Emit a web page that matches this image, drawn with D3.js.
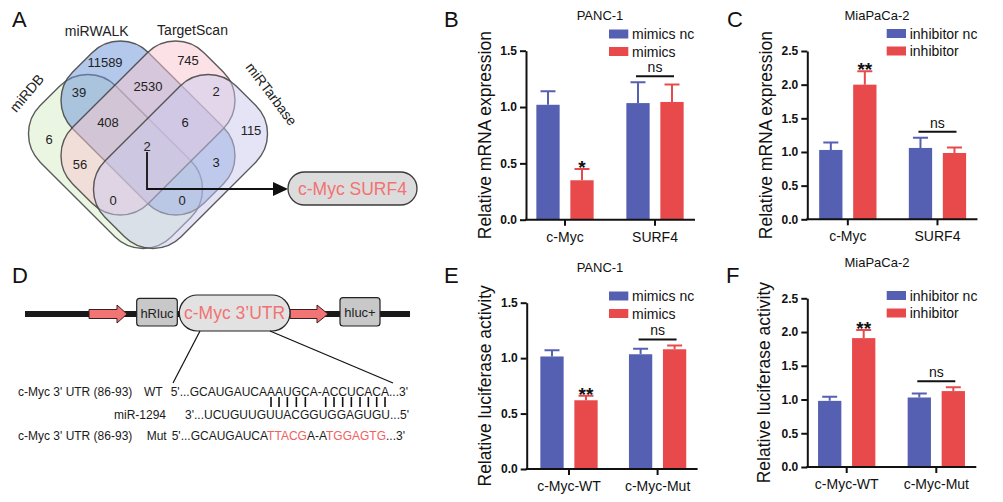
<!DOCTYPE html>
<html><head><meta charset="utf-8">
<script src="https://cdn.jsdelivr.net/npm/d3@7"></script>
<style>body{margin:0;background:#fff;} svg{display:block;font-family:"Liberation Sans",Arial,sans-serif;}</style>
</head><body><svg id="fig" width="1003" height="502"></svg>
<script>
// ---------------- DATA ----------------
// Panel B (PANC-1, qPCR)
const catsB = ["c-Myc", "SURF4"];
const seriesB = ["mimics nc", "mimics"];
const meanB_nc = [1.02, 1.035], sdB_nc = [0.12, 0.185];
const meanB_tr = [0.35, 1.045], sdB_tr = [0.10, 0.155];
const sigB = ["*", "ns"];
// Panel C (MiaPaCa-2, qPCR)
const catsC = ["c-Myc", "SURF4"];
const seriesC = ["inhibitor nc", "inhibitor"];
const meanC_nc = [1.03, 1.06], sdC_nc = [0.11, 0.15];
const meanC_tr = [2.0, 0.985], sdC_tr = [0.20, 0.08];
const sigC = ["**", "ns"];
// Panel E (PANC-1, luciferase)
const catsE = ["c-Myc-WT", "c-Myc-Mut"];
const seriesE = ["mimics nc", "mimics"];
const meanE_nc = [1.015, 1.035], sdE_nc = [0.055, 0.05];
const meanE_tr = [0.62, 1.08], sdE_tr = [0.04, 0.035];
const sigE = ["**", "ns"];
// Panel F (MiaPaCa-2, luciferase)
const catsF = ["c-Myc-WT", "c-Myc-Mut"];
const seriesF = ["inhibitor nc", "inhibitor"];
const meanF_nc = [0.98, 1.03], sdF_nc = [0.06, 0.06];
const meanF_tr = [1.91, 1.125], sdF_tr = [0.12, 0.055];
const sigF = ["**", "ns"];
const ticksLow = [0, 0.5, 1.0, 1.5];
const ticksHigh = [0, 0.5, 1.0, 1.5, 2.0, 2.5];

// Panel A (Venn)
const vennSets = ["miRDB", "miRWALK", "TargetScan", "miRTarbase"];
const vennKeys = ["A", "B", "C", "D", "AB", "BC", "CD", "AC", "BD", "ABC", "BCD", "ACD", "ABD", "ABCD"];
const vennCounts = [6, 11589, 745, 115, 39, 2530, 2, 56, 3, 408, 6, 0, 0, 2];
const vennHits = ["c-Myc", "SURF4"];

// Panel D (sequences)
const seqWT = "5'...GCAUGAUCAAAUGCA-ACCUCACA...3'";
const seqMiR = "3'...UCUGUUGUUACGGUGGAGUGU...5'";
const seqMutParts = [["5'...GCAUGAUCA", 0], ["TTACG", 1], ["A-A", 0], ["TGGAGTG", 1], ["...3'", 0]];
const pairIdx = [14, 15, 16, 17, 18, 21, 22, 23, 24, 25, 26, 27, 28];

// ---------------- STYLE / LAYOUT ----------------
const BLUE = "#5560b3", RED = "#e84a4b", CORAL = "#f27272";
const svg = d3.select("#fig");

function letter(t, x, y) {
  svg.append("text").attr("x", x).attr("y", y).attr("font-size", 22).attr("fill", "#111").text(t);
}

// ---------------- Panel A ----------------
(function () {
  const g = svg.append("g");
  const vennFill = ["#d5edc5", "#6991d7", "#f9c5cd", "#c9c9ed"];
  const shapes = [
    { cx: 115.5, cy: 161.5, rot: 45 },
    { cx: 148, cy: 128, rot: 45 },
    { cx: 148, cy: 128, rot: -45 },
    { cx: 180.5, cy: 161.5, rot: -45 }
  ];
  const a = 92.8, b = 53.7, r = 40;
  g.selectAll("rect.venn").data(shapes).join("rect")
    .attr("x", -a).attr("y", -b).attr("width", 2 * a).attr("height", 2 * b)
    .attr("rx", r).attr("ry", r)
    .attr("transform", d => `translate(${d.cx},${d.cy}) rotate(${d.rot})`)
    .attr("fill", (d, i) => vennFill[i]).attr("fill-opacity", 0.5)
    .attr("stroke", "#404040").attr("stroke-opacity", 0.85).attr("stroke-width", 1.4);

  const labelPos = {
    A: [49, 139], B: [105, 62], C: [188, 60], D: [251, 130], AB: [79, 92], BC: [148, 86], CD: [216, 91],
    AC: [80, 164], BD: [216, 162], ABC: [108, 122], BCD: [185, 122], ACD: [113, 200], ABD: [182, 200], ABCD: [147, 146]
  };
  g.selectAll("text.cnt").data(vennKeys).join("text")
    .attr("x", k => labelPos[k][0]).attr("y", k => labelPos[k][1])
    .attr("text-anchor", "middle").attr("dominant-baseline", "central")
    .attr("font-size", 13).attr("fill", "#222")
    .text((k, i) => vennCounts[i]);

  const setLab = [[26.7, 93, -50], [96.7, 31, 0], [192.5, 30, 0], [271.5, 94, 53]];
  g.selectAll("text.set").data(vennSets).join("text")
    .attr("transform", (d, i) => `translate(${setLab[i][0]},${setLab[i][1]}) rotate(${setLab[i][2]})`)
    .attr("text-anchor", "middle").attr("dominant-baseline", "central")
    .attr("font-size", 14).attr("fill", "#222").text(d => d);

  // arrow
  g.append("path").attr("d", "M147,152 V189 H275").attr("fill", "none").attr("stroke", "#111").attr("stroke-width", 1.8);
  g.append("path").attr("d", "M273,182 L288,189 L273,196 Z").attr("fill", "#111");
  g.append("rect").attr("x", 288).attr("y", 172).attr("width", 129).attr("height", 33).attr("rx", 16.5)
    .attr("fill", "#dcdcdc").attr("stroke", "#3a3a3a").attr("stroke-width", 1.3);
  g.append("text").attr("x", 352.5).attr("y", 189).attr("text-anchor", "middle").attr("dominant-baseline", "central")
    .attr("font-size", 17.5).attr("fill", CORAL).text(vennHits.join(" "));
  letter("A", 12, 27);
})();

// ---------------- Panel D ----------------
(function () {
  const g = svg.append("g");
  g.append("line").attr("x1", 25).attr("x2", 410).attr("y1", 314).attr("y2", 314).attr("stroke", "#1a1a1a").attr("stroke-width", 6);
  function arrow(x0, xh, x1) {
    g.append("path").attr("d", `M${x0},309.5 H${xh} V305 L${x1},314 L${xh},323 V318.5 H${x0} Z`)
      .attr("fill", "#f37474").attr("stroke", "#3a2020").attr("stroke-width", 1);
  }
  arrow(89, 117, 127);
  arrow(290, 317, 328);
  g.append("rect").attr("x", 136.7).attr("y", 298.3).attr("width", 40.6).attr("height", 27.7).attr("rx", 3)
    .attr("fill", "#c8c8c8").attr("stroke", "#222").attr("stroke-width", 1.2);
  g.append("text").attr("x", 157).attr("y", 313).attr("text-anchor", "middle").attr("dominant-baseline", "central")
    .attr("font-size", 13).attr("fill", "#222").text("hRluc");
  g.append("rect").attr("x", 340).attr("y", 297.7).attr("width", 40).attr("height", 28.3).attr("rx", 3)
    .attr("fill", "#c8c8c8").attr("stroke", "#222").attr("stroke-width", 1.2);
  g.append("text").attr("x", 360).attr("y", 312.5).attr("text-anchor", "middle").attr("dominant-baseline", "central")
    .attr("font-size", 13).attr("fill", "#222").text("hluc+");
  g.append("rect").attr("x", 179.3).attr("y", 295).attr("width", 110.7).attr("height", 36).attr("rx", 18)
    .attr("fill", "#e2e2e2").attr("stroke", "#222").attr("stroke-width", 1.2);
  g.append("text").attr("x", 234.6).attr("y", 313).attr("text-anchor", "middle").attr("dominant-baseline", "central")
    .attr("font-size", 17.5).attr("fill", CORAL).text("c-Myc 3\u2019UTR");
  g.append("line").attr("x1", 200).attr("y1", 331).attr("x2", 173).attr("y2", 383).attr("stroke", "#111").attr("stroke-width", 1.2);
  g.append("line").attr("x1", 270).attr("y1", 331).attr("x2", 393).attr("y2", 383).attr("stroke", "#111").attr("stroke-width", 1.2);

  const fs = 12;
  const t = (x, y, s, anchor) => g.append("text").attr("x", x).attr("y", y).attr("font-size", fs).attr("fill", "#1a1a1a")
    .attr("text-anchor", anchor || "start").text(s);
  t(18, 396, "c-Myc 3' UTR (86-93)");
  t(144, 396, "WT");
  const wt = t(170.7, 396, seqWT);
  t(166, 419, "miR-1294", "end");
  t(185, 419, seqMiR);
  t(18, 440, "c-Myc 3' UTR (86-93)");
  t(146.7, 440, "Mut");
  const mut = g.append("text").attr("x", 171.7).attr("y", 440).attr("font-size", fs);
  seqMutParts.forEach(p => mut.append("tspan").attr("fill", p[1] ? "#f26060" : "#1a1a1a").text(p[0]));
  const node = wt.node();
  g.selectAll("line.pair").data(pairIdx).join("line")
    .attr("x1", i => { const e = node.getExtentOfChar(i); return e.x + e.width / 2; })
    .attr("x2", i => { const e = node.getExtentOfChar(i); return e.x + e.width / 2; })
    .attr("y1", 397).attr("y2", 407).attr("stroke", "#111").attr("stroke-width", 1.6);
  letter("D", 12, 283);
})();

// ---------------- Bar panels ----------------
function barPanel(o) {
  const g = svg.append("g");
  const y = d3.scaleLinear().domain([0, o.ticks[o.ticks.length - 1]]).range([o.y0, o.yTop]);
  const x0 = d3.scaleBand().domain(o.cats).range(o.xRange);
  const x1 = d3.scaleBand().domain(o.series).range([-28.65, 28.65]).paddingInner(0.315);
  const colors = d3.scaleOrdinal().domain(o.series).range([BLUE, RED]);
  const rows = [];
  o.series.forEach((s, si) => o.cats.forEach((c, ci) => rows.push({ c, s, m: o.means[si][ci], e: o.sds[si][ci] })));
  const cx = d => x0(d.c) + x0.bandwidth() / 2 + x1(d.s) + x1.bandwidth() / 2;

  g.selectAll("rect.bar").data(rows).join("rect")
    .attr("x", d => x0(d.c) + x0.bandwidth() / 2 + x1(d.s)).attr("width", x1.bandwidth())
    .attr("y", d => y(d.m)).attr("height", d => y(0) - y(d.m)).attr("fill", d => colors(d.s));
  g.selectAll("path.err").data(rows).join("path")
    .attr("d", d => `M${cx(d)},${y(d.m)} V${y(d.m + d.e)} M${cx(d) - 7.5},${y(d.m + d.e)} H${cx(d) + 7.5}`)
    .attr("stroke", d => colors(d.s)).attr("stroke-width", 2).attr("fill", "none");

  // axes
  const ya = g.append("g").attr("transform", `translate(${o.axisX},0)`)
    .call(d3.axisLeft(y).tickValues(o.ticks).tickFormat(d3.format(".1f")).tickSize(6).tickSizeOuter(0).tickPadding(3));
  ya.select(".domain").attr("stroke", "#111").attr("stroke-width", 2);
  ya.selectAll(".tick line").attr("stroke", "#111").attr("stroke-width", 2);
  ya.selectAll(".tick text").attr("font-size", 12).attr("font-weight", "bold").attr("fill", "#111")
    .attr("font-family", "Liberation Sans, Arial, sans-serif");
  const lastC = x0(o.cats[o.cats.length - 1]) + x0.bandwidth() / 2;
  g.append("line").attr("x1", o.axisX - 1).attr("x2", lastC + 40).attr("y1", y(0)).attr("y2", y(0))
    .attr("stroke", "#111").attr("stroke-width", 2);
  const xa = g.append("g").attr("transform", `translate(0,${y(0)})`)
    .call(d3.axisBottom(x0).tickSize(6).tickSizeOuter(0).tickPadding(6));
  xa.select(".domain").remove();
  xa.selectAll(".tick line").attr("stroke", "#111").attr("stroke-width", 2);
  xa.selectAll(".tick text").attr("font-size", 14).attr("fill", "#111")
    .attr("font-family", "Liberation Sans, Arial, sans-serif");

  // significance
  o.sig.forEach((s, ci) => {
    const c = o.cats[ci];
    const gc = x0(c) + x0.bandwidth() / 2;
    const sub = rows.filter(r => r.c === c);
    const top = d3.min(sub, r => y(r.m + r.e));
    if (s === "ns") {
      const ly = top - 6;
      g.append("line").attr("x1", gc - 19).attr("x2", gc + 19).attr("y1", ly).attr("y2", ly).attr("stroke", "#111").attr("stroke-width", 2);
      g.append("text").attr("x", gc).attr("y", ly - 4).attr("text-anchor", "middle").attr("font-size", 14).attr("fill", "#111").text("ns");
    } else {
      const tr = sub.find(r => r.s === o.series[1]);
      g.append("text").attr("x", cx(tr)).attr("y", y(tr.m + tr.e) + 5).attr("text-anchor", "middle")
        .attr("font-size", 19).attr("font-weight", "bold").attr("fill", "#111").text(s);
    }
  });

  // title, y label, legend
  g.append("text").attr("x", o.titleX).attr("y", o.yTop - 31).attr("text-anchor", "middle").attr("font-size", 13).attr("fill", "#111").text(o.title);
  g.append("text").attr("transform", `translate(${o.ylabX},${(o.y0 + o.yTop) / 2 + 0}) rotate(-90)`)
    .attr("text-anchor", "middle").attr("font-size", 17.5).attr("fill", "#111").text(o.ylab);
  const lg = g.selectAll("g.leg").data(o.series).join("g")
    .attr("transform", (d, i) => `translate(${o.legX},${o.legY + i * 17.5})`);
  lg.append("rect").attr("width", 19.3).attr("height", 9).attr("fill", d => colors(d));
  lg.append("text").attr("x", 23).attr("y", 4.5).attr("dominant-baseline", "central").attr("font-size", 14).attr("fill", "#111").text(d => d);
  letter(o.letter, o.letterX, o.letterY);
}

barPanel({ cats: catsB, series: seriesB, means: [meanB_nc, meanB_tr], sds: [sdB_nc, sdB_tr], sig: sigB, ticks: ticksLow,
  axisX: 526, y0: 219.7, yTop: 50.7, xRange: [520, 700], title: "PANC-1", titleX: 600, ylab: "Relative mRNA expression",
  ylabX: 491, legX: 609, legY: 29.5, letter: "B", letterX: 444, letterY: 27 });
barPanel({ cats: catsC, series: seriesC, means: [meanC_nc, meanC_tr], sds: [sdC_nc, sdC_tr], sig: sigC, ticks: ticksHigh,
  axisX: 807.3, y0: 219.3, yTop: 51, xRange: [803, 982.3], title: "MiaPaCa-2", titleX: 877, ylab: "Relative mRNA expression",
  ylabX: 772, legX: 886.7, legY: 29, letter: "C", letterX: 727, letterY: 27 });
barPanel({ cats: catsE, series: seriesE, means: [meanE_nc, meanE_tr], sds: [sdE_nc, sdE_tr], sig: sigE, ticks: ticksLow,
  axisX: 526.7, y0: 469, yTop: 302.7, xRange: [524.7, 701.9], title: "PANC-1", titleX: 600, ylab: "Relative luciferase activity",
  ylabX: 491, legX: 609, legY: 291.5, letter: "E", letterX: 444, letterY: 283 });
barPanel({ cats: catsF, series: seriesF, means: [meanF_nc, meanF_tr], sds: [sdF_nc, sdF_tr], sig: sigF, ticks: ticksHigh,
  axisX: 807.3, y0: 467, yTop: 298.3, xRange: [801.9, 981.1], title: "MiaPaCa-2", titleX: 877, ylab: "Relative luciferase activity",
  ylabX: 770, legX: 886.7, legY: 291, letter: "F", letterX: 726, letterY: 283 });
</script>
</body></html>
